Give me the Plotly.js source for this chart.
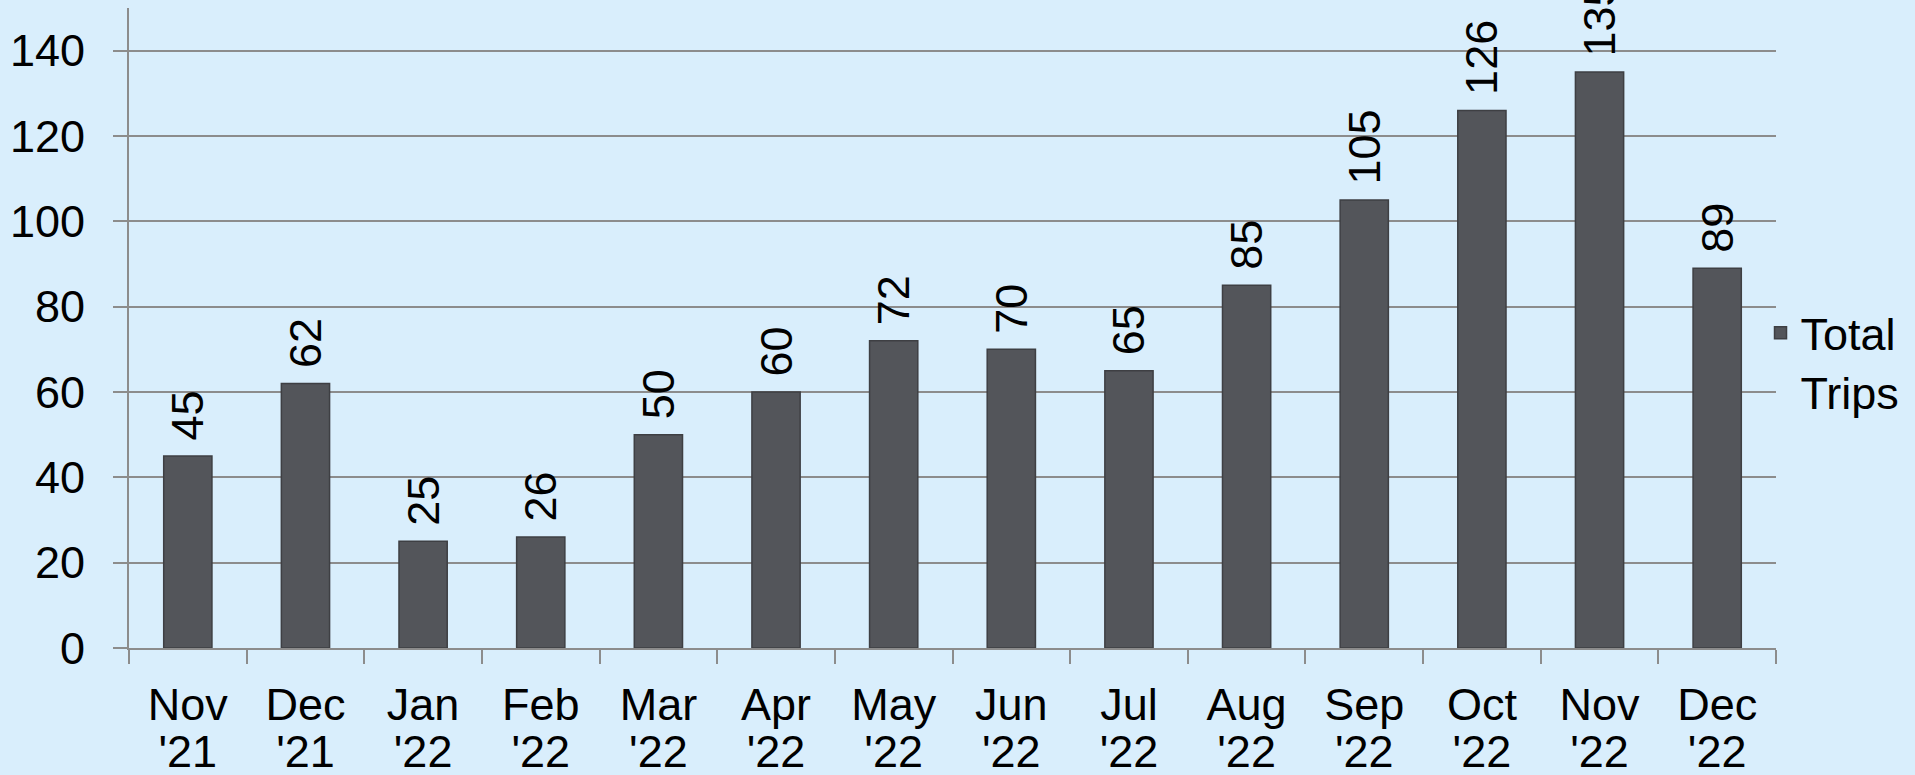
<!DOCTYPE html>
<html>
<head>
<meta charset="utf-8">
<script src="https://cdn.plot.ly/plotly-3.0.1.min.js"></script>
<style>
html,body{margin:0;padding:0;background:#D9EEFC;}
#chart{width:1915px;height:775px;}
</style>
</head>
<body>
<div id="chart"></div>
<script>
var months = ["Nov","Dec","Jan","Feb","Mar","Apr","May","Jun","Jul","Aug","Sep","Oct","Nov","Dec"];
var years = ["'21","'21","'22","'22","'22","'22","'22","'22","'22","'22","'22","'22","'22","'22"];
var totalTrips = [45, 62, 25, 26, 50, 60, 72, 70, 65, 85, 105, 126, 135, 89];
var seriesName = "Total<br>Trips";
var yTicks = [0, 20, 40, 60, 80, 100, 120, 140];

var categories = months.map(function (m, i) { return m + " " + years[i]; });
var positions = months.map(function (m, i) { return i; });

var FONT = "Liberation Sans, Arial, sans-serif";
var FS = 45;
var trace = {
  type: "bar",
  x: categories,
  y: totalTrips,
  name: seriesName,
  text: totalTrips.map(function (v) { return "\u00A0" + v; }),
  textposition: "outside",
  textangle: -90,
  constraintext: "none",
  cliponaxis: false,
  textfont: {family: FONT, size: FS, color: "#000"},
  marker: {color: "#53555A", line: {color: "#3E3F43", width: 1.5}},
  showlegend: true,
  hoverinfo: "y"
};

// carrier for the second line of the category labels (year), no visible marks
var yearAxisCarrier = {
  type: "scatter", mode: "markers",
  x: positions, y: positions.map(function () { return null; }),
  xaxis: "x2", yaxis: "y",
  showlegend: false, hoverinfo: "skip",
  marker: {opacity: 0}
};

var layout = {
  width: 1915, height: 775,
  paper_bgcolor: "#D9EEFC",
  plot_bgcolor: "#D9EEFC",
  margin: {l: 129, r: 139, t: 8, b: 127, pad: 0},
  bargap: 0.59,
  font: {family: FONT, size: FS, color: "#000"},
  showlegend: true,
  legend: {
    x: 0.9906, xanchor: "left", y: 0.447, yanchor: "middle",
    bgcolor: "rgba(0,0,0,0)", borderwidth: 0,
    font: {family: FONT, size: FS, color: "#000"},
    valign: "top", tracegroupgap: 0
  },
  xaxis: {
    type: "category",
    categoryarray: categories,
    tickvals: categories,
    ticktext: months,
    showline: true, linecolor: "#8C8C8C", linewidth: 2,
    ticks: "outside", tickson: "boundaries", ticklen: 14, tickwidth: 2, tickcolor: "#8C8C8C",
    showgrid: false, zeroline: false,
    tickfont: {family: FONT, size: FS, color: "#000"},
    tickangle: 0,
    ticklabelstandoff: 16
  },
  xaxis2: {
    overlaying: "x", anchor: "y", side: "bottom",
    type: "linear",
    range: [-0.5, months.length - 0.5],
    tickmode: "array",
    tickvals: positions,
    ticktext: years,
    showline: false, showgrid: false, zeroline: false, ticks: "",
    tickfont: {family: FONT, size: FS, color: "#000"},
    tickangle: 0,
    ticklabelstandoff: 73
  },
  yaxis: {
    range: [0, 150],
    tickvals: yTicks,
    showline: true, linecolor: "#8C8C8C", linewidth: 2,
    ticks: "outside", ticklen: 14, tickwidth: 2, tickcolor: "#8C8C8C",
    showgrid: true, gridcolor: "#8C8C8C", gridwidth: 2,
    zeroline: false,
    tickfont: {family: FONT, size: FS, color: "#000"},
    ticklabelstandoff: 19
  }
};

Plotly.newPlot("chart", [trace, yearAxisCarrier], layout, {displayModeBar: false, staticPlot: true});
</script>
</body>
</html>
